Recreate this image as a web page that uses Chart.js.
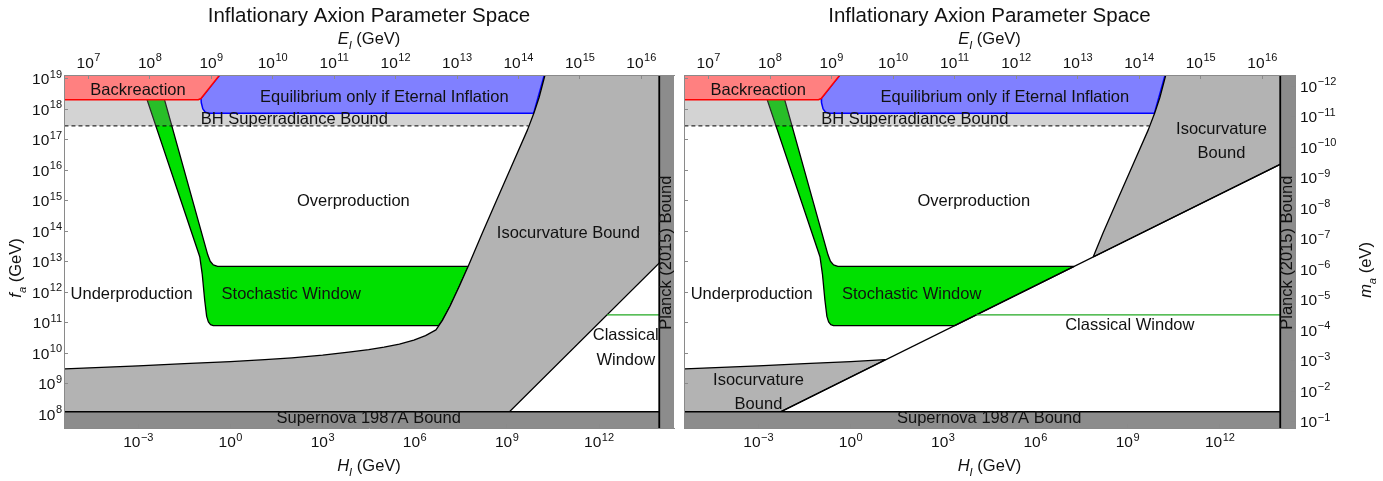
<!DOCTYPE html>
<html>
<head>
<meta charset="utf-8">
<title>Inflationary Axion Parameter Space</title>
<script src="https://cdn.jsdelivr.net/npm/chart.js@4.4.1/dist/chart.umd.min.js"></script>
<style>
  html, body { margin: 0; padding: 0; background: #fff; }
  body { width: 1383px; height: 481px; position: relative; overflow: hidden; }
  .panel { position: absolute; top: 0; height: 481px; }
  #leftPanel { left: 0; width: 679px; }
  #rightPanel { left: 679px; width: 704px; }
</style>
</head>
<body>
<div class="panel" id="leftPanel"><canvas id="leftChart" width="679" height="481"></canvas></div>
<div class="panel" id="rightPanel"><canvas id="rightChart" width="704" height="481"></canvas></div>
<script>
// ---- axis ranges and ticks (all values are log10 of the quantity) ----
const logHRange = [-5.42, 14.44];          // H_I in GeV
const logFRange = [7.55, 19.13];           // f_a in GeV
const hTickExps = [-3, 0, 3, 6, 9, 12];
const eTickExps = [7, 8, 9, 10, 11, 12, 13, 14, 15, 16];
const fTickExps = [8, 9, 10, 11, 12, 13, 14, 15, 16, 17, 18, 19];
const mTickExps = [-12, -11, -10, -9, -8, -7, -6, -5, -4, -3, -2, -1];
const eOffset = 9.312;   // log E_I = 0.5 log H_I + eOffset
const mOffset = 6.756;   // log m_a(eV) = mOffset - log f_a

// ---- bounds ----
const planckLogH = 13.96;
const supernovaLogF = 8.08;
const superradianceLogF = 17.46;
const classicalLogF = 11.26;

// ---- region boundaries as [log H_I, log f_a] ----
const backreactionEdge = [[-7, 18.32], [-1.05, 18.32], [-0.96, 18.36], [-0.06, 19.5], [-7, 19.5]];
const equilibriumEdge = [[-0.96, 18.36], [-0.95, 18.22], [-0.9, 18.02], [-0.82, 17.91], [-0.71, 17.875],
  [9.87, 17.875], [10.32, 19.5], [-0.06, 19.5], [-0.96, 18.36]];
const isocurvatureCurve = [[-7, 9.42], [-5.39, 9.49], [-3, 9.59], [-1.5, 9.66], [0, 9.73], [1.12, 9.79],
  [2, 9.85], [3, 9.94], [3.85, 10.04], [4.5, 10.12], [5.0, 10.2], [5.5, 10.3], [5.97, 10.43], [6.35, 10.58],
  [6.69, 10.77], [6.9, 11.08], [7.15, 11.55], [7.45, 12.2], [7.75, 12.88], [8.2, 13.95], [8.7, 15.1],
  [9.2, 16.25], [9.67, 17.33], [9.88, 17.88], [10.05, 18.4], [10.24, 19.13], [10.32, 19.5]];
// left panel: right edge of the isocurvature region
const isocurvatureEdgeLeft = [[15.5, 19.5], [15.5, 14.5], [8.0, 7.0], [-7, 7.0]];
// right panel: the straight classical/stochastic divide
const classicalDivide = [[-5, 6.72], [15.5, 16.97]];
const isoUpperStart = [7.88, 13.16];
const isoUpperEnd = [[15.5, 19.5], [15.5, 16.97], [7.88, 13.16]];
const isoLowerEnd = [[-2.28, 8.08], [-5, 6.72], [-7, 6.72]];

const stochasticLeftSide = [[-2.81, 18.6], [-2.72, 18.33], [-1.0, 13.17], [-0.92, 12.6],
  [-0.84, 11.75], [-0.775, 11.21], [-0.72, 11.03], [-0.65, 10.94], [-0.56, 10.91]];
const stochasticTopSide = [[-0.42, 12.85], [-0.56, 12.9], [-0.66, 13.02], [-0.74, 13.23], [-2.225, 18.6], [-2.81, 18.6]];
const stochasticRightLeftPanel = [[6.78, 10.91], [6.9, 11.08], [7.15, 11.55], [7.45, 12.2], [7.74, 12.85]];
const stochasticRightRightPanel = [[3.38, 10.91], [7.26, 12.85]];
const classicalStartLeft = 12.26;
const classicalStartRight = 4.08;

// ---- labels: [text, log H_I, log f_a] ----
const labelsLeft = [
  ['Backreaction', -3.01, 18.61],
  ['Equilibrium only if Eternal Inflation', 5.01, 18.38],
  ['BH Superradiance Bound', 2.08, 17.66],
  ['Overproduction', 4.0, 14.97],
  ['Underproduction', -3.22, 11.92],
  ['Stochastic Window', 1.98, 11.92],
  ['Isocurvature Bound', 11.0, 13.93],
  ['Classical', 12.87, 10.58],
  ['Window', 12.87, 9.76],
  ['Supernova 1987A Bound', 4.5, 7.85]
];
const labelsRight = [
  ['Backreaction', -3.01, 18.61],
  ['Equilibrium only if Eternal Inflation', 5.01, 18.38],
  ['BH Superradiance Bound', 2.08, 17.66],
  ['Isocurvature', 12.05, 17.35],
  ['Bound', 12.05, 16.57],
  ['Overproduction', 4.0, 14.97],
  ['Underproduction', -3.22, 11.92],
  ['Stochastic Window', 1.98, 11.92],
  ['Classical Window', 9.07, 10.9],
  ['Isocurvature', -3.0, 9.1],
  ['Bound', -3.0, 8.31],
  ['Supernova 1987A Bound', 4.5, 7.85]
];
const planckLabel = ['Planck (2015) Bound', 14.2, 13.3];

const FONT = '"Liberation Sans", Arial, Helvetica, sans-serif';
const TICK_FONT = '15.5px ' + FONT;
const EXP_FONT = '11px ' + FONT;

function toPoints(list) {
  return list.map(([h, f]) => ({x: Math.pow(10, h), y: Math.pow(10, f)}));
}
function shape(list, fillColor, lineColor, lineWidth, dash) {
  return {
    data: toPoints(list),
    fill: fillColor ? 'shape' : false,
    backgroundColor: fillColor || 'rgba(0,0,0,0)',
    borderColor: lineColor || 'rgba(0,0,0,0)',
    borderWidth: lineColor ? lineWidth : 0,
    borderDash: dash || [],
    borderJoinStyle: 'round',
    pointRadius: 0,
    tension: 0,
    clip: 0
  };
}
function layered(list) {
  // first entry is the bottom layer
  return list.map((d, i) => Object.assign(d, {order: list.length - i}));
}

function logAxis(position, range, tickExps, extra) {
  return Object.assign({
    type: 'logarithmic',
    position: position,
    min: Math.pow(10, range[0]),
    max: Math.pow(10, range[1]),
    bounds: 'data',
    afterBuildTicks: s => { s.ticks = tickExps.map(e => ({value: Math.pow(10, e)})); },
    ticks: {display: false, autoSkip: false},
    grid: {drawOnChartArea: false, drawTicks: true, tickLength: -4, color: '#8a8a8a', z: 1},
    border: {display: true, color: '#8a8a8a', width: 1, z: 1}
  }, extra || {});
}

// "10" with a raised exponent, for the power-of-ten tick labels
function drawPower(ctx, exp, x, y, align) {
  const sup = String(exp).replace('-', '\u2212');
  ctx.font = TICK_FONT;
  const wb = ctx.measureText('10').width;
  ctx.font = EXP_FONT;
  const we = ctx.measureText(sup).width;
  const total = wb + we + 0.5;
  const left = align === 'center' ? x - total / 2 : (align === 'right' ? x - total : x);
  ctx.textAlign = 'left';
  ctx.textBaseline = 'alphabetic';
  ctx.font = TICK_FONT;
  ctx.fillText('10', left, y);
  ctx.font = EXP_FONT;
  ctx.fillText(sup, left + wb + 0.5, y - 6.5);
}
function drawTickLabels(chart, id, side) {
  const s = chart.scales[id];
  const ctx = chart.ctx;
  ctx.save();
  ctx.fillStyle = '#111';
  for (const t of s.ticks) {
    const e = Math.round(Math.log10(t.value));
    const p = s.getPixelForValue(t.value);
    if (side === 'bottom') drawPower(ctx, e, p, s.top + 19, 'center');
    else if (side === 'top') drawPower(ctx, e, p, s.bottom - 7.5, 'center');
    else if (side === 'left') drawPower(ctx, e, s.right - 2, p + 5.5, 'right');
    else drawPower(ctx, e, s.left + 5, p + 5.5, 'left');
  }
  ctx.restore();
}

function drawRich(ctx, parts, cx, cy, size, rotate) {
  ctx.save();
  ctx.translate(cx, cy);
  if (rotate) ctx.rotate(-Math.PI / 2);
  const specs = parts.map(p => {
    const s = p.sub ? size * 0.68 : size;
    const font = (p.italic ? 'italic ' : '') + s + 'px ' + FONT;
    ctx.font = font;
    return {t: p.t, font: font, w: ctx.measureText(p.t).width, dy: p.sub ? size * 0.28 : 0};
  });
  const total = specs.reduce((a, s) => a + s.w, 0);
  let x = -total / 2;
  ctx.textBaseline = 'alphabetic';
  ctx.textAlign = 'left';
  ctx.fillStyle = '#111';
  for (const s of specs) {
    ctx.font = s.font;
    ctx.fillText(s.t, x, size * 0.36 + s.dy);
    x += s.w;
  }
  ctx.restore();
}

function textPlugin(labels, opts) {
  return {
    id: 'panelText',
    afterDraw(chart) {
      const ctx = chart.ctx;
      const area = chart.chartArea;
      const xs = chart.scales.x, ys = chart.scales.y;
      const cx = (area.left + area.right) / 2;
      drawTickLabels(chart, 'x', 'bottom');
      drawTickLabels(chart, 'xTop', 'top');
      if (opts.fTitle) drawTickLabels(chart, 'y', 'left');
      if (opts.mTitle) drawTickLabels(chart, 'yM', 'right');
      ctx.save();
      ctx.fillStyle = '#111';
      ctx.textAlign = 'center';
      ctx.textBaseline = 'middle';
      ctx.font = '16.5px ' + FONT;
      for (const [t, h, f] of labels) {
        ctx.fillText(t, xs.getPixelForValue(Math.pow(10, h)), ys.getPixelForValue(Math.pow(10, f)));
      }
      // rotated bound label inside the Planck strip
      ctx.save();
      ctx.translate(xs.getPixelForValue(Math.pow(10, planckLabel[1])), ys.getPixelForValue(Math.pow(10, planckLabel[2])));
      ctx.rotate(-Math.PI / 2);
      ctx.fillText(planckLabel[0], 0, 0);
      ctx.restore();
      // titles
      ctx.font = '20.5px ' + FONT;
      ctx.fillText('Inflationary Axion Parameter Space', cx, 16);
      ctx.restore();
      drawRich(ctx, [{t: 'E', italic: true}, {t: 'I', italic: true, sub: true}, {t: ' (GeV)'}], cx, 38, 16.5, false);
      drawRich(ctx, [{t: 'H', italic: true}, {t: 'I', italic: true, sub: true}, {t: ' (GeV)'}], cx, 465, 16.5, false);
      if (opts.fTitle) {
        drawRich(ctx, [{t: 'f', italic: true}, {t: 'a', italic: true, sub: true}, {t: ' (GeV)'}], 15, 268, 16.5, true);
      }
      if (opts.mTitle) {
        drawRich(ctx, [{t: 'm', italic: true}, {t: 'a', italic: true, sub: true}, {t: ' (eV)'}], 686, 270, 16.5, true);
      }
    }
  };
}

const GREEN = '#00e000';
const shared = {
  responsive: false,
  devicePixelRatio: 1,
  animation: false,
  events: [],
  plugins: {legend: {display: false}, tooltip: {enabled: false}, title: {display: false}}
};

// ---- left panel ----
const leftDatasets = layered([
  shape(stochasticLeftSide.concat(stochasticRightLeftPanel, stochasticTopSide), GREEN, '#000', 1.3),
  shape([[-7, superradianceLogF], [11, superradianceLogF], [11, 19.5], [-7, 19.5]], 'rgba(120,120,120,0.33)'),
  shape([[-7, superradianceLogF], [9.7, superradianceLogF]], null, '#000', 1, [4, 3]),
  shape(equilibriumEdge, '#8080ff', '#0000ff', 1.5),
  shape(backreactionEdge, '#ff8080', '#ff0000', 1.5),
  shape(isocurvatureCurve.concat(isocurvatureEdgeLeft), '#b3b3b3', '#000', 1.3),
  shape([[classicalStartLeft, classicalLogF], [planckLogH, classicalLogF]], null, '#22a822', 1.2),
  shape([[-7, 6.5], [-7, supernovaLogF], [16, supernovaLogF], [16, 6.5]], '#8c8c8c', '#000', 1.5),
  shape([[planckLogH, 6.5], [planckLogH, 20], [16, 20], [16, 6.5]], '#8c8c8c', '#000', 1.8)
]);

new Chart(document.getElementById('leftChart'), {
  type: 'line',
  data: {datasets: leftDatasets},
  options: Object.assign({}, shared, {
    layout: {padding: {left: 0, right: 5, top: 0, bottom: 0}},
    scales: {
      x: logAxis('bottom', logHRange, hTickExps, {afterFit: s => { s.height = 53; }}),
      xTop: logAxis('top', [0.5 * logHRange[0] + eOffset, 0.5 * logHRange[1] + eOffset], eTickExps,
        {afterFit: s => { s.height = 75; }}),
      y: logAxis('left', logFRange, fTickExps, {afterFit: s => { s.width = 64; }})
    }
  }),
  plugins: [textPlugin(labelsLeft, {fTitle: true})]
});

// ---- right panel ----
const isoUpper = [isoUpperStart].concat(isocurvatureCurve.filter(p => p[0] >= 8.2), isoUpperEnd);
const isoLower = isocurvatureCurve.filter(p => p[0] <= 1.12).concat(isoLowerEnd);
const rightDatasets = layered([
  shape(stochasticLeftSide.concat(stochasticRightRightPanel, stochasticTopSide), GREEN, '#000', 1.3),
  shape([[-7, superradianceLogF], [11, superradianceLogF], [11, 19.5], [-7, 19.5]], 'rgba(120,120,120,0.33)'),
  shape([[-7, superradianceLogF], [9.7, superradianceLogF]], null, '#000', 1, [4, 3]),
  shape(equilibriumEdge, '#8080ff', '#0000ff', 1.5),
  shape(backreactionEdge, '#ff8080', '#ff0000', 1.5),
  shape(isoLower, '#b3b3b3', '#000', 1.3),
  shape(isoUpper, '#b3b3b3', '#000', 1.3),
  shape(classicalDivide, null, '#000', 1.3),
  shape([[classicalStartRight, classicalLogF], [planckLogH, classicalLogF]], null, '#22a822', 1.2),
  shape([[-7, 6.5], [-7, supernovaLogF], [16, supernovaLogF], [16, 6.5]], '#8c8c8c', '#000', 1.5),
  shape([[planckLogH, 6.5], [planckLogH, 20], [16, 20], [16, 6.5]], '#8c8c8c', '#000', 1.8)
]);

new Chart(document.getElementById('rightChart'), {
  type: 'line',
  data: {datasets: rightDatasets},
  options: Object.assign({}, shared, {
    layout: {padding: {left: 5, right: 0, top: 0, bottom: 0}},
    scales: {
      x: logAxis('bottom', logHRange, hTickExps, {afterFit: s => { s.height = 53; }}),
      xTop: logAxis('top', [0.5 * logHRange[0] + eOffset, 0.5 * logHRange[1] + eOffset], eTickExps,
        {afterFit: s => { s.height = 75; }}),
      y: logAxis('left', logFRange, fTickExps, {afterFit: s => { s.width = 0; }}),
      yM: logAxis('right', [mOffset - logFRange[1], mOffset - logFRange[0]], mTickExps,
        {reverse: true, afterFit: s => { s.width = 88; }})
    }
  }),
  plugins: [textPlugin(labelsRight, {mTitle: true})]
});
</script>
</body>
</html>
